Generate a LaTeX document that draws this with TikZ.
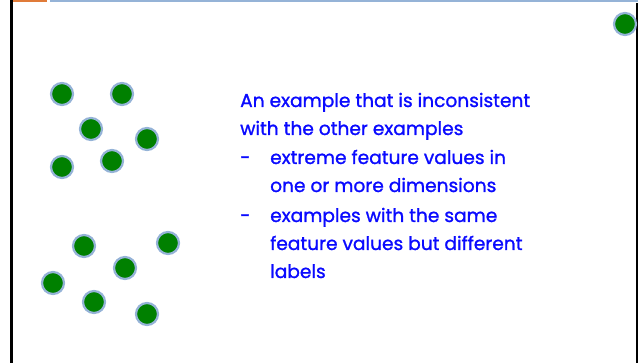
\documentclass[tikz,border=0pt]{standalone}
\usepackage{fontspec}
\setmainfont[FakeBold=1.2]{Poppins}
\definecolor{slidegreen}{RGB}{0,128,0}
\definecolor{ringblue}{RGB}{149,179,215}
\definecolor{barorange}{RGB}{224,123,57}
\definecolor{textblue}{RGB}{10,10,255}

\begin{document}
\begin{tikzpicture}[
    x=1pt, y=-1pt,
    point/.style={
        circle,
        draw=ringblue,
        line width=2.2pt,
        fill=slidegreen,
        minimum size=22pt,
        inner sep=0pt
    },
    line/.style={
        anchor=base west,
        inner sep=0pt,
        text=textblue,
        font=\fontsize{18.6}{22}\selectfont
    }
]
\useasboundingbox (0,0) rectangle (638,363);

% Frame and title bars
\fill[black] (10,0) rectangle (12.5,363);
\fill[black] (635.5,3) rectangle (638,363);
\fill[barorange] (12.5,0) rectangle (47,2.5);
\fill[ringblue] (50,0) rectangle (638,2.5);

% Outlier
\node[point] (o) at (625,24) {};

% Upper cluster
\node[point] (a1) at (62,94) {};
\node[point] (a2) at (122,94) {};
\node[point] (a3) at (91,129) {};
\node[point] (a4) at (147,139) {};
\node[point] (a5) at (62,167) {};
\node[point] (a6) at (112,161) {};

% Lower cluster
\node[point] (b1) at (84,246) {};
\node[point] (b2) at (168,243) {};
\node[point] (b3) at (125,268) {};
\node[point] (b4) at (53,283) {};
\node[point] (b5) at (94,302) {};
\node[point] (b6) at (147,314) {};

% Text
\node[line] (t1) at (240,107) {An example that is inconsistent};
\node[line] (t2) at (240,135) {with the other examples};
\node[line] (d1) at (240,164) {-};
\node[line] (t3) at (270,164) {extreme feature values in};
\node[line] (t4) at (270,192) {one or more dimensions};
\node[line] (d2) at (240,222) {-};
\node[line] (t5) at (270,222) {examples with the same};
\node[line] (t6) at (270,250) {feature values but different};
\node[line] (t7) at (270,278) {labels};

\end{tikzpicture}
\end{document}
